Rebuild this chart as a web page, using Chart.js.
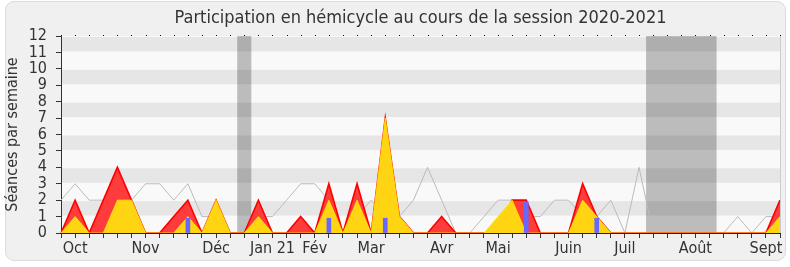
<!DOCTYPE html>
<html><head><meta charset="utf-8">
<script src="https://cdn.jsdelivr.net/npm/chart.js"></script>
<style>
html,body{margin:0;padding:0;background:#fff;}
#frame{position:absolute;left:5px;top:1px;width:779px;height:258px;border:1px solid #dcdcdc;border-radius:9px;background:#f0f0f0;}
#wrap{position:absolute;left:0;top:0;width:790px;height:267px;}
</style></head><body>
<div id="frame"></div>
<div id="wrap"><canvas id="c" width="790" height="267"></canvas></div>
<script>
// Weeks of the session (one point per week)
const weeks = ['S01','S02','S03','S04','S05','S06','S07','S08','S09','S10','S11','S12','S13',
  'S14','S15','S16','S17','S18','S19','S20','S21','S22','S23','S24','S25','S26',
  'S27','S28','S29','S30','S31','S32','S33','S34','S35','S36','S37','S38','S39',
  'S40','S41','S42','S43','S44','S45','S46','S47','S48','S49','S50','S51','S52'];
// Month tick labels (shown under the corresponding week)
const monthTicks = ['','Oct','','','','','Nov','','','','','Déc','','',
  '','Jan 21','','','Fév','','','','Mar','','','','','Avr','','','','Mai',
  '','','','','Juin','','','','Juil','','','','','Août','','','','','Sept',''];
// Median participation of all deputies (grey line)
const medianValues = [2,3,2,2,2,2,3,3,2,3,1,1,0,0,1,1,2,3,3,2,0,1,2,1,1,2,
  4,2,0,0,1,2,2,1,1,2,2,1,1,2,0,4,0,0,0,0,0,0,1,0,1,1];
// Total presences (red area)
const presenceValues = [0,2,0,2,4,2,0,0,1,2,0,2,0,0,2,0,0,1,0,3,0,3,0,7,1,0,
  0,1,0,0,0,0,2,2,0,0,0,3,1,0,0,0,0,0,0,0,0,0,0,0,0,2];
// Presences with interventions (yellow area)
const interventionValues = [0,1,0,0,2,2,0,0,0,1,0,2,0,0,1,0,0,0,0,2,0,2,0,7,1,0,
  0,0,0,0,0,1,2,0,0,0,0,2,1,0,0,0,0,0,0,0,0,0,0,0,0,1];
// Questions / other activity (blue bars)
const questionValues = [null,null,null,null,null,null,null,null,null,0.9,null,null,null,
  null,null,null,null,null,null,0.9,null,null,null,0.9,null,null,
  null,null,null,null,null,null,null,1.9,null,null,null,null,0.9,null,
  null,null,null,null,null,null,null,null,null,null,null,null];
// Parliamentary breaks (shaded), in week positions
const breakStarts = [12.5, 41.5];
const breakEnds = [13.5, 46.5];

const FONT = "'DejaVu Sans Condensed','DejaVu Sans',sans-serif";

const decor = {
  id: 'decor',
  beforeDraw(chart) {
    const {ctx, chartArea: a, scales: {x, y}} = chart;
    ctx.save();
    ctx.fillStyle = '#f9f9f9';
    ctx.fillRect(a.left, a.top, a.right - a.left, a.bottom - a.top);
    ctx.fillStyle = '#e6e6e6';
    for (let v = 1; v < 12; v += 2) {
      const y1 = y.getPixelForValue(v + 1), y0 = y.getPixelForValue(v);
      ctx.fillRect(a.left, y1 + 1, a.right - a.left, y0 - y1 - 2);
    }
    ctx.fillStyle = 'rgba(0,0,0,0.245)';
    for (let i = 0; i < breakStarts.length; i++) {
      const x0 = x.getPixelForValue(breakStarts[i]), x1 = x.getPixelForValue(breakEnds[i]);
      ctx.fillRect(x0, a.top, x1 - x0, a.bottom - a.top);
    }
    ctx.restore();
  },
  afterDraw(chart) {
    const {ctx, chartArea: a, scales: {x}} = chart;
    ctx.save();
    ctx.fillStyle = '#111';
    for (let i = 0; i < weeks.length; i++) {
      ctx.fillRect(Math.round(x.getPixelForValue(i)), a.top - 1, 1, 1);
    }
    ctx.strokeStyle = '#cccccc';
    ctx.lineWidth = 1;
    ctx.beginPath();
    ctx.moveTo(Math.round(a.right) + 0.5, a.top);
    ctx.lineTo(Math.round(a.right) + 0.5, a.bottom);
    ctx.stroke();
    ctx.restore();
  }
};

new Chart(document.getElementById('c'), {
  type: 'line',
  data: {
    labels: weeks,
    datasets: [
      {type: 'bar', label: 'Questions', data: questionValues, backgroundColor: '#6868ff',
       barThickness: 4, order: 0},
      {label: 'Interventions', data: interventionValues, fill: 'origin',
       backgroundColor: '#ffd412', borderColor: 'rgba(255,235,0,0.8)', borderWidth: 1,
       pointRadius: 0, tension: 0, order: 1},
      {label: 'Présences', data: presenceValues, fill: 'origin',
       backgroundColor: '#ff3c3c', borderColor: '#ff0000', borderWidth: 1.6,
       pointRadius: 0, tension: 0, order: 2},
      {label: 'Médiane', data: medianValues, fill: false,
       borderColor: '#bbbbbb', borderWidth: 1, pointRadius: 0, tension: 0, order: 3}
    ]
  },
  options: {
    responsive: false,
    animation: false,
    events: [],
    layout: {padding: {left: 0, right: 10, top: 0, bottom: 0}},
    plugins: {
      legend: {display: false},
      tooltip: {enabled: false},
      title: {display: true, fullSize: false,
        text: 'Participation en hémicycle au cours de la session 2020-2021',
        color: '#333', font: {family: FONT, size: 18, weight: 'normal'},
        padding: {top: 8, bottom: 6.4}}
    },
    scales: {
      x: {
        type: 'category', offset: false, z: 1,
        grid: {offset: false, drawOnChartArea: false, tickLength: 5, color: '#333'},
        border: {color: '#222'},
        ticks: {autoSkip: false, maxRotation: 0, minRotation: 0, padding: 1,
          color: '#333', font: {family: FONT, size: 16},
          callback: (v, i) => monthTicks[i]},
        afterFit: s => { s.height = 34; }
      },
      y: {
        min: 0, max: 12,
        grid: {drawOnChartArea: false, tickLength: 5, color: '#333'},
        border: {color: '#333'},
        ticks: {stepSize: 1, autoSkip: false, padding: 9, color: '#333', font: {family: FONT, size: 16}},
        title: {display: true, text: 'Séances par semaine', color: '#333',
          font: {family: FONT, size: 16}, padding: {top: 3, bottom: 0}},
        afterFit: s => { s.width = 61; }
      }
    }
  },
  plugins: [decor]
});
</script>
</body></html>
